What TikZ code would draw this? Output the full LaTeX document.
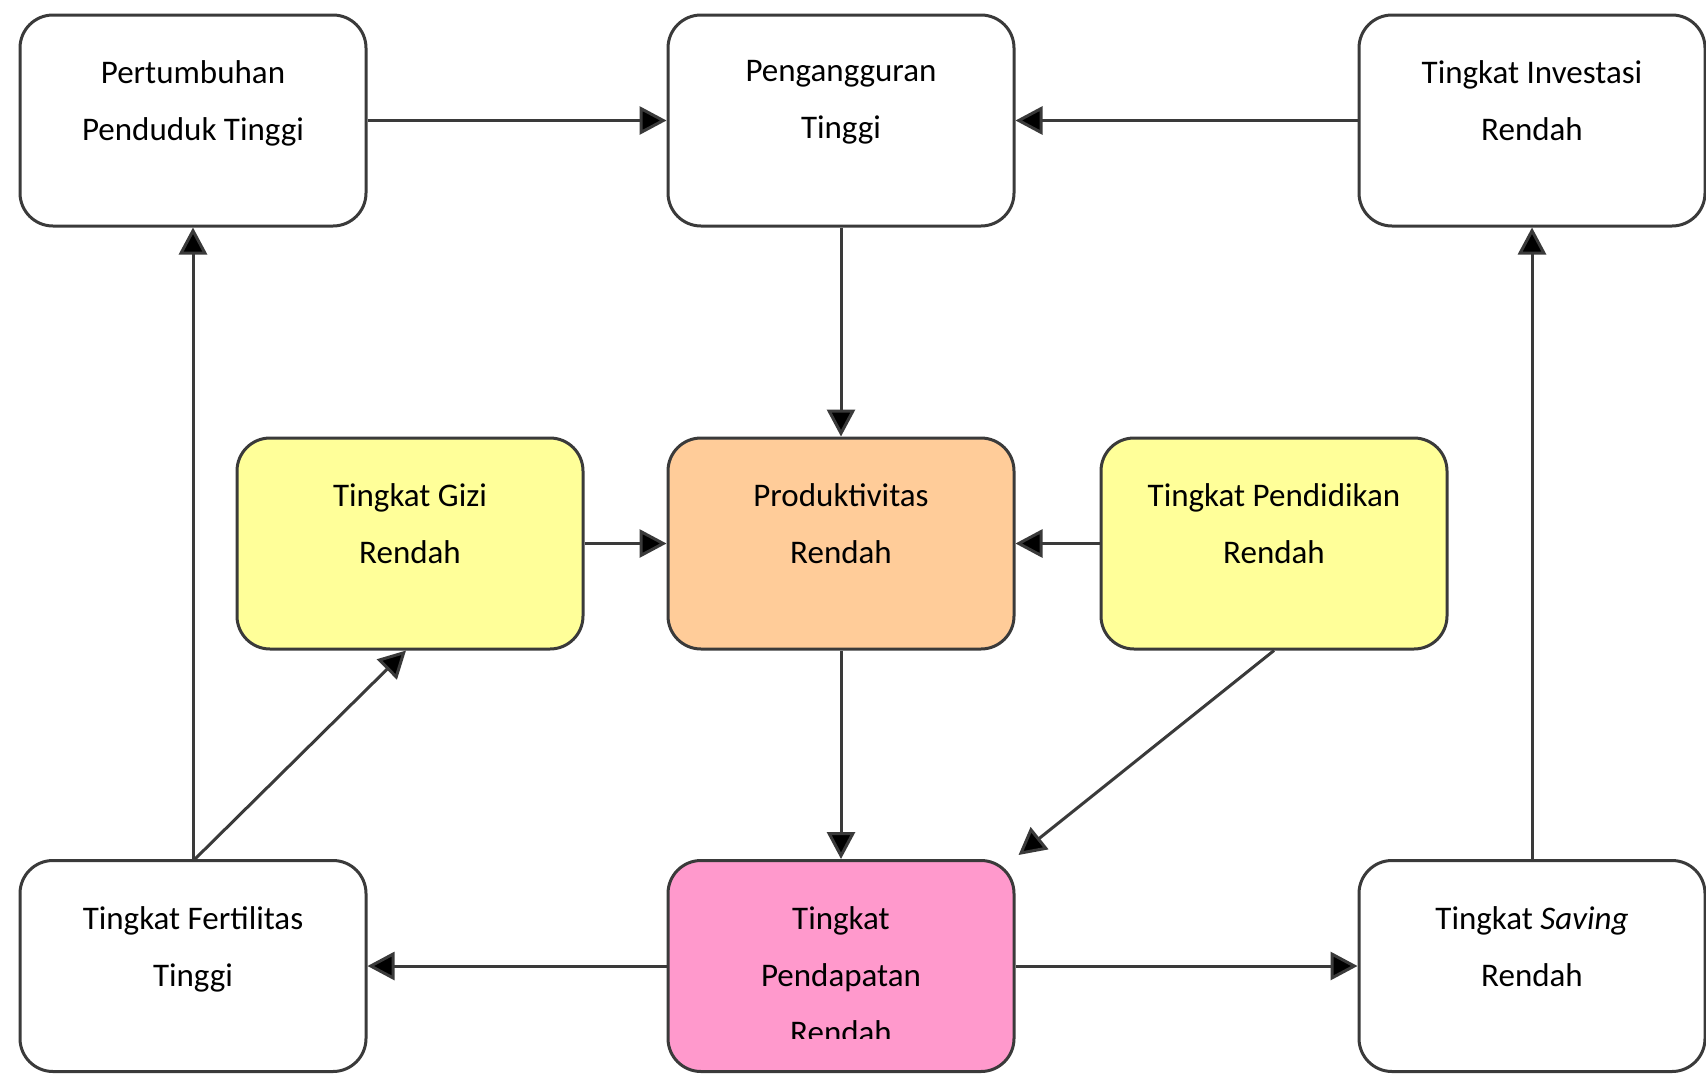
\documentclass[tikz,border=0pt]{standalone}
\usepackage{fontspec}
\setmainfont{Carlito}
\usetikzlibrary{arrows.meta}
\definecolor{boxline}{HTML}{3A3A3A}
\definecolor{gizicol}{HTML}{FFFF99}
\definecolor{prodcol}{HTML}{FFCC99}
\definecolor{pinkcol}{HTML}{FF99CC}
\tikzset{
  box/.style={draw=boxline, line width=3pt, rounded corners=33pt,
    minimum width=346pt, minimum height=211pt, inner sep=0pt, fill=white},
  lbl/.style={anchor=north, align=center, inner sep=0pt,
    font=\fontsize{33}{57}\selectfont},
  arr/.style={draw=boxline, line width=3pt,
    -{Triangle[length=27pt,width=28pt,fill=black]}},
}
\begin{document}
\begin{tikzpicture}[x=1pt,y=-1pt]
\useasboundingbox (0,0) rectangle (1706,1074);
% boxes
\node[box] (ptt)  at (193,120.5) {};
\node[box] (peng) at (841,120.5) {};
\node[box] (inv)  at (1532,120.5) {};
\node[box, fill=gizicol] (gizi) at (410,543.5) {};
\node[box, fill=prodcol] (prod) at (841,543.5) {};
\node[box, fill=gizicol] (pend) at (1274,543.5) {};
\node[box] (fert) at (193,966) {};
\node[box, fill=pinkcol] (pdpt) at (841,966) {};
\node[box] (sav)  at (1532,966) {};
% labels
\node[lbl] (ptt-t)  at ([yshift=-47pt]ptt.north)  {Pertumbuhan\\Penduduk Tinggi};
\node[lbl] (peng-t) at ([yshift=-47pt]peng.north) {Pengangguran\\Tinggi};
\node[lbl] (inv-t)  at ([yshift=-47pt]inv.north)  {Tingkat Investasi\\Rendah};
\node[lbl] (gizi-t) at ([yshift=-47pt]gizi.north) {Tingkat Gizi\\Rendah};
\node[lbl] (prod-t) at ([yshift=-47pt]prod.north) {Produktivitas\\Rendah};
\node[lbl] (pend-t) at ([yshift=-47pt]pend.north) {Tingkat Pendidikan\\Rendah};
\node[lbl] (fert-t) at ([yshift=-47pt]fert.north) {Tingkat Fertilitas\\Tinggi};
\node[lbl] (sav-t)  at ([yshift=-47pt]sav.north)  {Tingkat \textit{Saving}\\Rendah};
\begin{scope}
\clip (668,858) rectangle (1014,1038);
\node[lbl] (pdpt-t) at ([yshift=-47pt]pdpt.north) {Tingkat\\Pendapatan\\Rendah};
\end{scope}
% connectors
\draw[arr] (ptt.east) -- (peng.west);
\draw[arr] (inv.west) -- (peng.east);
\draw[arr] (peng.south) -- (prod.north);
\draw[arr] (gizi.east) -- (prod.west);
\draw[arr] (pend.west) -- (prod.east);
\draw[arr] (prod.south) -- (pdpt.north);
\draw[arr] (pend.south) -- ([xshift=3pt,yshift=4pt]pdpt.north east);
\draw[arr] (pdpt.west) -- (fert.east);
\draw[arr] (pdpt.east) -- (sav.west);
\draw[arr] (fert.north) -- (ptt.south);
\draw[arr] ([xshift=2pt]fert.north) -- ([xshift=-4pt]gizi.south);
\draw[arr] (sav.north) -- (inv.south);
\end{tikzpicture}
\end{document}
